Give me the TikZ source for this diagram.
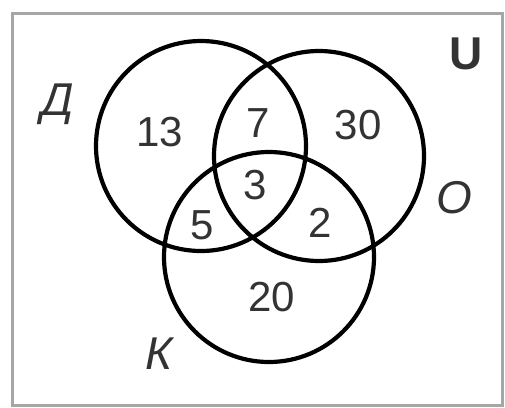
\documentclass[tikz,border=0pt]{standalone}
\usepackage{fontspec}
\setmainfont{Liberation Sans}
\usepackage{tikz}

\begin{document}
\begin{tikzpicture}[x=1pt,y=-1pt,
	set/.style={draw,circle,line width=4.2pt,minimum size=210pt,inner sep=0pt},
	num/.style={inner sep=0pt,font=\fontsize{42}{42}\selectfont,text=black!80},
	lab/.style={inner sep=0pt,font=\fontsize{46}{46}\selectfont\itshape,text=black!80}]
	\useasboundingbox (0,0) rectangle (505,407);
	\draw[black!35,line width=3pt] (12,13) rectangle (502,405);
	\node[set] (D) at (201,146) {};
	\node[set] (O) at (319,156) {};
	\node[set] (K) at (269,257) {};
	\node[lab,anchor=base] (LD) at (58,115) {Д};
	\node[lab] (LO) at (454,198) {О};
	\node[lab] (LK) at (159,354) {К};
	\node[inner sep=0pt,font=\fontsize{46}{46}\selectfont\bfseries,text=black!80] (LU) at (466,54) {U};
	\node[num] (N13) at (160,132) {13};
	\node[num] (N7) at (258,123) {7};
	\node[num] (N30) at (358,125) {30};
	\node[num] (N3) at (255,185) {3};
	\node[num] (N5) at (202,225) {5};
	\node[num] (N2) at (320,223) {2};
	\node[num] (N20) at (272,297) {20};
\end{tikzpicture}
\end{document}
